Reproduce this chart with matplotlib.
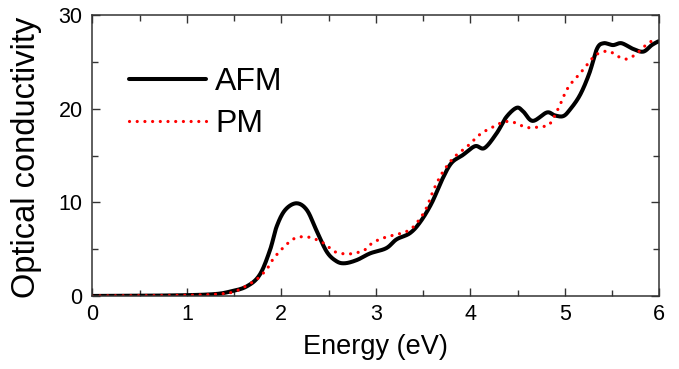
import numpy as np
import matplotlib
matplotlib.use('Agg')
import matplotlib.pyplot as plt
from matplotlib.ticker import MultipleLocator

plt.rcParams['font.family'] = ['Liberation Sans', 'DejaVu Sans']

# values
e_afm = [0.0, 0.5, 1.0, 1.3, 1.455, 1.63, 1.77, 1.88, 1.95, 2.04, 2.16, 2.27, 2.37,
         2.48, 2.58, 2.67, 2.80, 2.94, 3.11, 3.22, 3.36, 3.47, 3.59, 3.70, 3.80, 3.92,
         4.05, 4.15, 4.28, 4.38, 4.49, 4.56, 4.66, 4.81, 4.89, 4.98, 5.05, 5.16, 5.26,
         5.34, 5.41, 5.51, 5.60, 5.72, 5.83, 5.92, 5.99]
s_afm = [0.0, 0.02, 0.08, 0.2, 0.46, 1.0, 2.24, 4.9, 7.4, 9.18, 9.9, 9.18, 7.04,
         4.73, 3.73, 3.49, 3.84, 4.55, 5.1, 6.05, 6.7, 7.9, 9.9, 12.4, 14.2, 15.05,
         16.0, 15.8, 17.4, 19.1, 20.1, 19.7, 18.7, 19.6, 19.3, 19.2, 19.85, 21.45, 23.8,
         26.4, 27.0, 26.8, 27.0, 26.4, 26.1, 26.8, 27.2]

e_pm = [0.0, 0.5, 1.0, 1.3, 1.5, 1.70, 1.79, 1.86, 1.91, 1.98, 2.06, 2.14, 2.22, 2.30,
        2.38, 2.47, 2.55, 2.63, 2.71, 2.80, 2.88, 2.95, 3.04, 3.15, 3.29, 3.38, 3.47,
        3.54, 3.61, 3.70, 3.80, 3.87, 3.96, 4.03, 4.12, 4.21, 4.28, 4.35, 4.44, 4.52,
        4.59, 4.68, 4.77, 4.84, 4.93, 4.97, 5.0, 5.05, 5.12, 5.18, 5.25, 5.32, 5.41,
        5.48, 5.56, 5.65, 5.72, 5.80, 5.88, 5.96]
s_pm = [0.0, 0.02, 0.07, 0.18, 0.45, 1.5, 2.24, 3.06, 3.9, 4.73, 5.55, 6.15, 6.33, 6.26,
        5.98, 5.5, 4.8, 4.55, 4.48, 4.62, 4.9, 5.55, 6.05, 6.4, 6.76, 7.22, 8.3,
        9.5, 11.3, 13.1, 14.5, 15.2, 15.9, 16.6, 17.4, 17.9, 18.25, 18.6, 18.6, 18.3,
        18.0, 18.0, 18.1, 18.35, 20.0, 20.9, 21.6, 22.5, 23.3, 24.0, 24.9, 25.7, 26.1,
        26.1, 25.6, 25.3, 25.6, 26.25, 27.0, 27.4]


def smooth(x, y):
    # Catmull-Rom spline through the read points
    x = np.asarray(x, float)
    y = np.asarray(y, float)
    px = np.concatenate([[2 * x[0] - x[1]], x, [2 * x[-1] - x[-2]]])
    py = np.concatenate([[2 * y[0] - y[1]], y, [2 * y[-1] - y[-2]]])
    ox, oy = [], []
    t = np.linspace(0, 1, 20, endpoint=False)
    for i in range(1, len(px) - 2):
        for arr, out in ((px, ox), (py, oy)):
            p0, p1, p2, p3 = arr[i - 1], arr[i], arr[i + 1], arr[i + 2]
            out.extend(0.5 * ((2 * p1) + (-p0 + p2) * t +
                              (2 * p0 - 5 * p1 + 4 * p2 - p3) * t ** 2 +
                              (-p0 + 3 * p1 - 3 * p2 + p3) * t ** 3))
    ox.append(x[-1])
    oy.append(y[-1])
    return np.array(ox), np.clip(np.array(oy), 0, None)


fig = plt.figure(figsize=(6.79, 3.69), dpi=100)
ax = fig.add_axes([0.136, 0.198, 0.835, 0.761])

xa, ya = smooth(e_afm, s_afm)
xp, yp = smooth(e_pm, s_pm)
ax.plot(xa, ya, color='black', lw=2.9, label='AFM', solid_capstyle='round')
ax.plot(xp, yp, color='red', lw=2.3, ls=(0, (0.01, 2.4)), dash_capstyle='round', label='PM')

ax.set_xlim(0, 6)
ax.set_ylim(0, 30)
ax.xaxis.set_major_locator(MultipleLocator(1))
ax.xaxis.set_minor_locator(MultipleLocator(0.5))
ax.yaxis.set_major_locator(MultipleLocator(10))
ax.yaxis.set_minor_locator(MultipleLocator(5))
ax.tick_params(which='both', direction='in', top=True, right=True, colors='#333333',
               labelcolor='black', width=1, labelsize=15.5)
ax.tick_params(which='major', length=6)
ax.tick_params(which='minor', length=4)
ax.tick_params(axis='x', pad=6)
ax.tick_params(axis='y', pad=7)
for sp in ax.spines.values():
    sp.set_color('#333333')
    sp.set_linewidth(1.1)

ax.set_xlabel('Energy (eV)', fontsize=19.5)
ax.set_ylabel('Optical conductivity', fontsize=23.5)
ax.xaxis.set_label_coords(0.5, -0.135)
ax.yaxis.set_label_coords(-0.089, 0.495)

ax.legend(loc='upper left', bbox_to_anchor=(0.064, 0.814), frameon=False, fontsize=23,
          handlelength=2.43, handletextpad=0.28, labelspacing=0.36, borderaxespad=0,
          borderpad=0)

fig.savefig('out.png', dpi=100)
